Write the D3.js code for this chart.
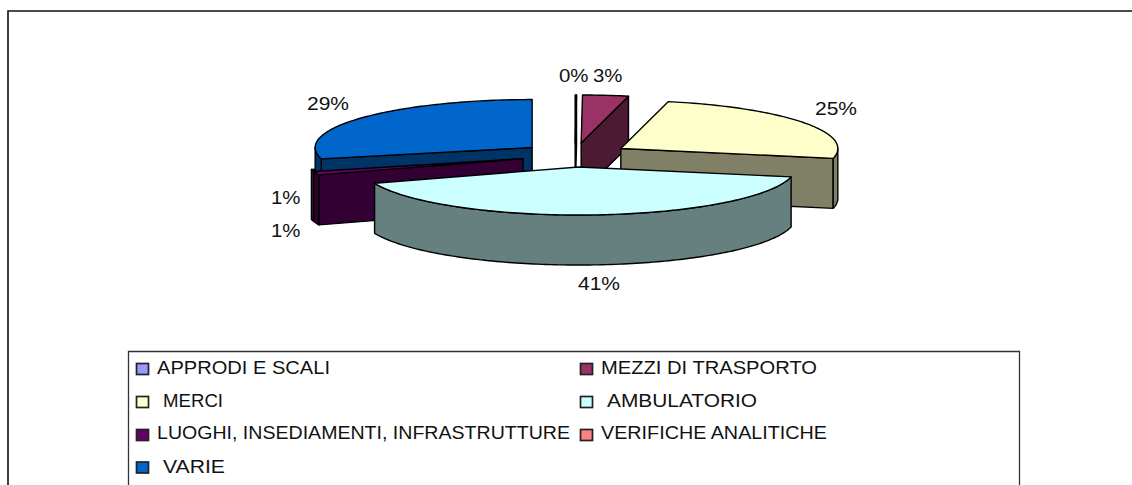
<!DOCTYPE html>
<html><head><meta charset="utf-8">
<script src="https://cdn.jsdelivr.net/npm/d3@7"></script>
<style>html,body{margin:0;padding:0;background:#fff;overflow:hidden}svg{display:block}
text{font-family:"Liberation Sans",Arial,sans-serif;fill:#111}</style></head><body>
<script>
const categories=["APPRODI E SCALI","MEZZI DI TRASPORTO","MERCI","AMBULATORIO","LUOGHI, INSEDIAMENTI, INFRASTRUTTURE","VERIFICHE ANALITICHE","VARIE"];
const values=[0.1,3.4,24.8,41.2,1.2,0.5,28.8];
const topColors=["#9999ff","#993366","#ffffcc","#ccffff","#660066","#ff8080","#0066cc"];
const wallColors=["#4d4d80","#4d1a33","#808066","#668080","#330033","#804040","#003366"];
const drawOrder=[0,1,5,6,2,4,3];
const W=1132,H=485;
const svg=d3.select("body").append("svg").attr("width",W).attr("height",H);
// outer frame: top and left edges only are in view
svg.append("path").attr("d",d3.line()([[W,11],[8,11],[8,H]])).attr("fill","none").attr("stroke","#111").attr("stroke-width",1.6);
// 3D pie geometry
const cx=575,cy=155,rx=217,ry=48,depth=50,explode=54.5;
const arcs=d3.pie().sort(null).value(d=>d)(values);
const px=d3.scaleLinear().domain([0,1]).range([0,rx]);
const py=d3.scaleLinear().domain([0,1]).range([0,ry]);
const pt=(ox,oy,a,d=0)=>[ox+px(Math.sin(a)),oy-py(Math.cos(a))+d];
const line=d3.line();
function arcPts(ox,oy,a0,a1,d=0){const n=Math.max(2,Math.ceil((a1-a0)/0.02));return d3.range(n+1).map(i=>pt(ox,oy,a0+(a1-a0)*i/n,d));}
const g=svg.append("g").attr("stroke","#000").attr("stroke-width",1.4).attr("stroke-linejoin","round");
drawOrder.forEach(i=>{
  const s=arcs[i],a0=s.startAngle,a1=s.endAngle,m=(a0+a1)/2;
  const ox=cx+explode*Math.sin(m),oy=cy-explode*(ry/rx)*Math.cos(m);
  const wall=wallColors[i];
  const face=p=>g.append("path").attr("d",line(p)+"Z").attr("fill",wall);
  if(Math.sin(a0)<0) face([[ox,oy],pt(ox,oy,a0),pt(ox,oy,a0,depth),[ox,oy+depth]]);
  if(Math.sin(a1)>0) face([[ox,oy],pt(ox,oy,a1),pt(ox,oy,a1,depth),[ox,oy+depth]]);
  const lo=Math.max(a0,Math.PI/2),hi=Math.min(a1,Math.PI*1.5);
  if(hi>lo) face(arcPts(ox,oy,lo,hi).concat(arcPts(ox,oy,lo,hi,depth).reverse()));
  g.append("path").attr("d",line([[ox,oy]].concat(arcPts(ox,oy,a0,a1)))+"Z").attr("fill",topColors[i]);
});
// data labels
const labelPos=[[559,82],[593,82],[815,115],[578,290],[271,204],[271,237],[307,110]];
values.forEach((v,i)=>{const t=Math.round(v)+"%";
  svg.append("text").attr("x",labelPos[i][0]).attr("y",labelPos[i][1]).attr("font-size",18)
    .attr("textLength",t.length===3?42:29.5).attr("lengthAdjust","spacingAndGlyphs").text(t);});
// legend
svg.append("path").attr("d",d3.line()([[128.5,H],[128.5,351.5],[1019.5,351.5],[1019.5,H]])).attr("fill","none").attr("stroke","#333").attr("stroke-width",1.3);
const swX=[136,580],swY=[363.5,396.5,429.5,462],base=[374,407,439,473];
const textX=[157,601,163,607,157,601,163],textW=[173,216,60,150,413,226,62];
categories.forEach((c,i)=>{
  const col=i%2,row=Math.floor(i/2);
  svg.append("rect").attr("x",swX[col]+.5).attr("y",swY[row]).attr("width",12).attr("height",11).attr("fill",topColors[i]).attr("stroke","#222").attr("stroke-width",1.7);
  svg.append("text").attr("x",textX[i]).attr("y",base[row]).attr("font-size",18)
    .attr("textLength",textW[i]).attr("lengthAdjust","spacingAndGlyphs").text(c);
});
</script></body></html>
